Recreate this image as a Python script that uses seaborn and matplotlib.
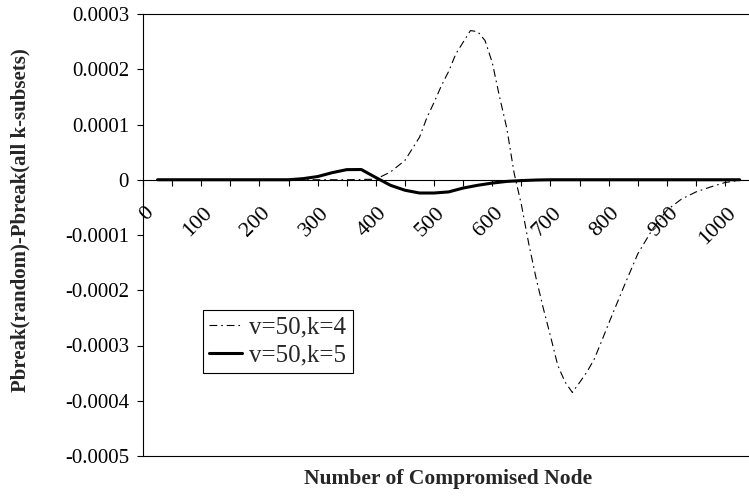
import numpy as np
import pandas as pd
import matplotlib
matplotlib.use("Agg")
import matplotlib.pyplot as plt
import matplotlib.transforms as mtransforms
import seaborn as sns

# ---- data ----
k4_nodes = [0, 25, 50, 75, 100, 125, 150, 175, 200, 225,
            250, 275, 300, 325, 350, 375, 400, 425, 450, 462.5,
            475, 487.5, 500, 512.5, 525, 537.5, 550, 562.5, 575, 587.5,
            600, 612.5, 625, 637.5, 650, 662.5, 675, 687.5, 700, 712.5,
            725, 737.5, 750, 762.5, 775, 800, 825, 850, 875, 900,
            925, 950, 975, 1000]
k4_values = [0, 0, 0, 0, 0, 0, 0, 0, 0, 0,
             0, 0, 0, 0, 0.0000005, 0.000001, 0.000014, 0.000035, 0.000077, 0.000112,
             0.00014, 0.00017, 0.000196, 0.000228, 0.000249, 0.00027, 0.000268, 0.000252, 0.000212, 0.00015,
             0.000093, 0.000012, -0.000045, -0.000115, -0.000177, -0.000232, -0.000283, -0.000336, -0.000366, -0.000385,
             -0.000367, -0.000348, -0.000325, -0.000293, -0.00026, -0.000196, -0.000134, -0.00009, -0.000055, -0.000035,
             -0.000022, -0.000013, -0.000005, -0.000001]
k5_nodes = list(range(0, 1001, 25))
k5_values = [0, 0, 0, 0, 0, 0, 0, 0, 0, 0,
             0.000002, 0.0000058, 0.0000128, 0.0000183, 0.0000185, 0.000004, -0.00001, -0.000019, -0.000024, -0.000024,
             -0.000022, -0.000015, -0.00001, -0.000006, -0.000003, -0.0000015, -0.0000005, 0, 0, 0,
             0, 0, 0, 0, 0, 0, 0, 0, 0, 0,
             0]
series_names = ["v=50,k=4", "v=50,k=5"]
x_tick_labels = [str(v) for v in range(0, 1001, 100)]
y_ticks = [0.0003, 0.0002, 0.0001, 0, -0.0001, -0.0002, -0.0003, -0.0004, -0.0005]
y_tick_labels = ["0.0003", "0.0002", "0.0001", "0", "-0.0001", "-0.0002", "-0.0003", "-0.0004", "-0.0005"]

df4 = pd.DataFrame({"node": k4_nodes, "value": k4_values})
df5 = pd.DataFrame({"node": k5_nodes, "value": k5_values})

sns.set_theme(style="white")
plt.rcParams["font.family"] = ["Liberation Serif", "DejaVu Serif"]
plt.rcParams["font.size"] = 15

fig = plt.figure(figsize=(7.49, 4.97), dpi=100)
ax = fig.add_axes([143 / 749, 1 - 456 / 497, 606 / 749, 442 / 497])

sns.lineplot(data=df4, x="node", y="value", ax=ax, color="black", lw=0.8,
             linestyle=(0, (7, 3.5, 1.5, 3.5)), label=series_names[0])
sns.lineplot(data=df5, x="node", y="value", ax=ax, color="black", lw=2.2,
             label=series_names[1])

ax.set_xlim(-25, 1016)
ax.set_ylim(-0.0005, 0.0003)

# spines
for s in ["top", "left", "bottom"]:
    ax.spines[s].set_visible(True)
    ax.spines[s].set_color("black")
    ax.spines[s].set_linewidth(0.8)
ax.spines["right"].set_visible(False)
ax.spines["bottom"].set_position(("data", 0))
ax.plot([0, 1], [0, 0], transform=ax.transAxes, color="black", lw=0.8, clip_on=False)

# x ticks
ax.set_xticks(list(range(0, 1001, 100)))
ax.set_xticklabels(x_tick_labels, rotation=45, ha="right", va="top", rotation_mode="anchor")
ax.set_xticks(list(range(-25, 1016, 50)), minor=True)
ax.tick_params(axis="x", which="major", length=0, pad=17, labelsize=16, colors="black")
ax.tick_params(axis="x", which="minor", length=4, width=0.8, direction="out", bottom=True, color="black")
shift = mtransforms.ScaledTranslation(-13 / 100, 0, fig.dpi_scale_trans)
for lab in ax.get_xticklabels():
    lab.set_transform(lab.get_transform() + shift)

# y ticks
ax.set_yticks(y_ticks)
ax.set_yticklabels(y_tick_labels)
ax.tick_params(axis="y", which="major", length=4, width=0.8, direction="out", left=True,
               labelsize=15, pad=6, colors="black")

ax.set_xlabel("Number of Compromised Node", fontsize=15.5, fontweight="bold")
ax.set_ylabel("Pbreak(random)-Pbreak(all k-subsets)", fontsize=15, fontweight="bold")
ax.xaxis.set_label_coords(0.503, -0.030)
ax.yaxis.set_label_coords(-0.185, 0.534)

leg = ax.legend(loc="upper left", bbox_to_anchor=((203 - 143) / 606, (456 - 310) / 442),
                frameon=True, fancybox=False, shadow=False, framealpha=1,
                edgecolor="black", fontsize=18, handlelength=1.3, handletextpad=0.3,
                borderpad=0.25, labelspacing=0.2, borderaxespad=0)
leg.get_frame().set_linewidth(0.8)

ax.grid(False)
fig.savefig("out.png", dpi=100, facecolor="white")
